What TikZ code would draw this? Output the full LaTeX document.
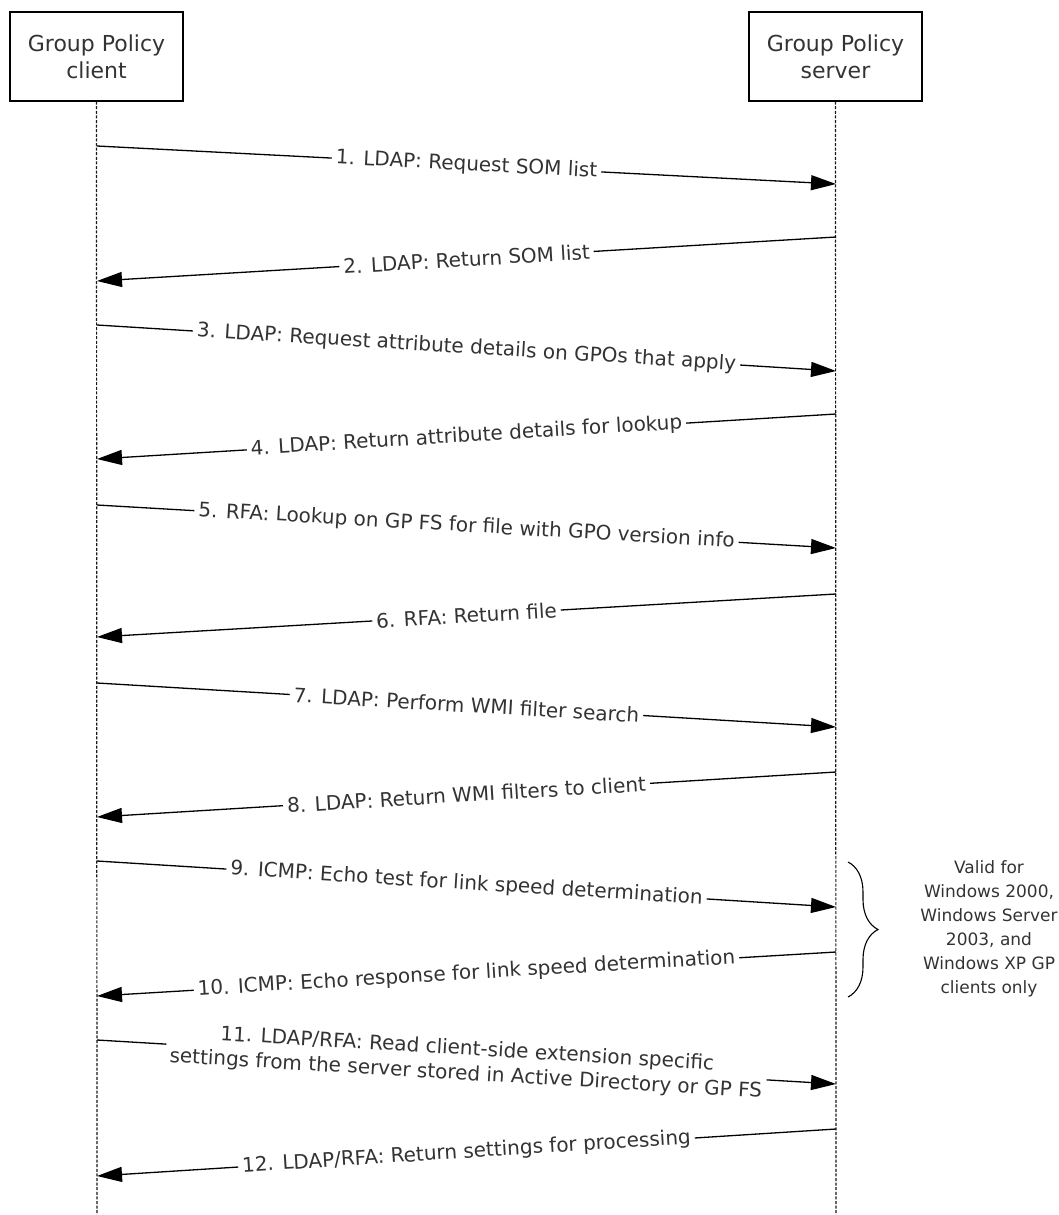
\documentclass[tikz,border=0pt]{standalone}
\usepackage{fontspec}
\setmainfont{DejaVu Sans}
\usetikzlibrary{arrows.meta,decorations.pathreplacing}
\definecolor{txt}{HTML}{333333}
\tikzset{
  actor/.style={draw=black, line width=1.2pt, minimum width=173pt, minimum height=89pt,
    align=center, font=\fontsize{22}{27}\selectfont, text=txt, inner sep=0pt},
  lifeline/.style={line width=1.2pt, dash pattern=on 3pt off 1.6pt, draw=black!90},
  msg/.style={line width=1.3pt, -{Triangle[length=25pt,width=15pt]}},
  lbl/.style={sloped, pos=0.5, fill=white, inner xsep=4pt, inner ysep=1pt,
    font=\fontsize{20}{24}\selectfont, text=txt, align=center},
}
\begin{document}
\begin{tikzpicture}[x=1pt,y=-1pt]
\useasboundingbox (0,0) rectangle (1059,1215);
\node[actor] (client) at (96.5,56.5) {Group Policy\\client};
\node[actor] (server) at (835.5,56.5) {Group Policy\\server};
\coordinate (cend) at (97,1215);
\coordinate (send) at (836,1215);
\draw[lifeline] (client.south) -- (cend);
\draw[lifeline] (server.south) -- (send);
% message endpoints
\foreach \n/\cy/\sy in {1/146/184, 3/325/371, 5/505/548, 7/683/727, 9/861/907, 11/1040/1084}{
  \coordinate (c\n) at (97,\cy);
  \coordinate (s\n) at (836,\sy);
}
\foreach \n/\sy/\cy in {2/237/281, 4/414/459, 6/594/637, 8/772/817, 10/952/996, 12/1129/1176}{
  \coordinate (s\n) at (836,\sy);
  \coordinate (c\n) at (97,\cy);
}
\draw[msg] (c1) -- node[lbl] {1. LDAP: Request SOM list} (s1);
\draw[msg] (s2) -- node[lbl] {2. LDAP: Return SOM list} (c2);
\draw[msg] (c3) -- node[lbl] {3. LDAP: Request attribute details on GPOs that apply} (s3);
\draw[msg] (s4) -- node[lbl] {4. LDAP: Return attribute details for lookup} (c4);
\draw[msg] (c5) -- node[lbl] {5. RFA: Lookup on GP FS for file with GPO version info} (s5);
\draw[msg] (s6) -- node[lbl] {6. RFA: Return file} (c6);
\draw[msg] (c7) -- node[lbl] {7. LDAP: Perform WMI filter search} (s7);
\draw[msg] (s8) -- node[lbl] {8. LDAP: Return WMI filters to client} (c8);
\draw[msg] (c9) -- node[lbl] {9. ICMP: Echo test for link speed determination} (s9);
\draw[msg] (s10) -- node[lbl] {10. ICMP: Echo response for link speed determination} (c10);
\draw[msg] (c11) -- node[lbl, font=\fontsize{20}{25}\selectfont] {11. LDAP/RFA: Read client-side extension specific\\settings from the server stored in Active Directory or GP FS} (s11);
\draw[msg] (s12) -- node[lbl] {12. LDAP/RFA: Return settings for processing} (c12);
% brace
\coordinate (btop) at (848,862);
\coordinate (bbot) at (848,997);
\draw[line width=1.1pt, decorate, decoration={brace, amplitude=30pt}] (btop) -- (bbot);
\node[font=\fontsize{17}{24}\selectfont, text=txt, align=center] (note) at (989,929)
  {Valid for\\Windows 2000,\\Windows Server\\2003, and\\Windows XP GP\\clients only};
\end{tikzpicture}
\end{document}
